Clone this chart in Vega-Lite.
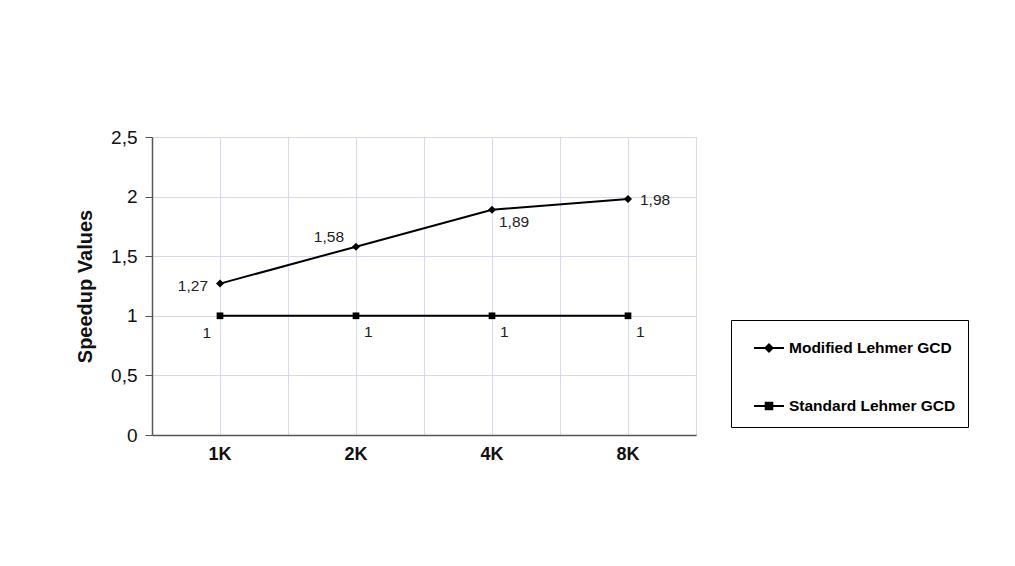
{
  "$schema": "https://vega.github.io/schema/vega-lite/v6.json",
  "autosize": {"type": "none"},
  "width": 544,
  "height": 298,
  "padding": {"left": 152, "top": 137, "right": 319, "bottom": 131},
  "background": "white",
  "config": {
    "font": "Liberation Sans",
    "locale": {"number": {"decimal": ",", "thousands": ".", "grouping": [3], "currency": ["", " €"]}},
    "view": {"stroke": "#d8d8f0", "strokeWidth": 1},
    "axis": {"gridColor": "#d8d8f0", "gridWidth": 1, "domainColor": "#555555", "domainWidth": 1.5, "tickColor": "#555555", "labelColor": "#111111", "titleColor": "#111111"}
  },
  "data": {
    "values": [
      {"size": "1K", "series": "Modified Lehmer GCD", "speedup": 1.27},
      {"size": "2K", "series": "Modified Lehmer GCD", "speedup": 1.58},
      {"size": "4K", "series": "Modified Lehmer GCD", "speedup": 1.89},
      {"size": "8K", "series": "Modified Lehmer GCD", "speedup": 1.98},
      {"size": "1K", "series": "Standard Lehmer GCD", "speedup": 1},
      {"size": "2K", "series": "Standard Lehmer GCD", "speedup": 1},
      {"size": "4K", "series": "Standard Lehmer GCD", "speedup": 1},
      {"size": "8K", "series": "Standard Lehmer GCD", "speedup": 1}
    ]
  },
  "encoding": {
    "x": {"field": "size", "type": "ordinal", "sort": ["1K", "2K", "4K", "8K"], "axis": null,
          "scale": {"type": "band", "paddingInner": 0, "paddingOuter": 0}},
    "y": {"field": "speedup", "type": "quantitative", "scale": {"domain": [0, 2.5], "nice": false, "zero": true}}
  },
  "layer": [
    {
      "mark": {"type": "point", "filled": false, "color": "black", "opacity": 0},
      "encoding": {
        "x": {"field": "size", "type": "ordinal", "sort": ["1K", "2K", "4K", "8K"],
              "axis": {"orient": "bottom", "title": null, "grid": true, "tickBand": "extent", "labels": false, "ticks": false, "domain": false}},
        "shape": {
          "field": "series", "type": "nominal",
          "scale": {"domain": ["Modified Lehmer GCD", "Standard Lehmer GCD"],
                    "range": [
                      "M-1,0L1,0M0,-0.24L0.24,0L0,0.24L-0.24,0ZM0,-0.2L0,0.2",
                      "M-1,0L1,0M-0.22,-0.22L0.22,-0.22L0.22,0.22L-0.22,0.22ZM0,-0.22L0,0.22M-0.22,-0.1L0.22,-0.1M-0.22,0.1L0.22,0.1"
                    ]},
          "legend": {
            "orient": "none", "legendX": 579, "legendY": 183, "title": null,
            "symbolSize": 900, "symbolStrokeWidth": 2, "symbolStrokeColor": "black", "symbolFillColor": "black", "symbolOpacity": 1,
            "labelFontSize": 15.5, "labelFontWeight": "bold", "labelColor": "black", "labelOffset": 4, "labelLimit": 300,
            "rowPadding": 33, "padding": 12, "symbolOffset": 10,
            "strokeColor": "black", "fillColor": "white"
          }
        }
      }
    },
    {
      "mark": {"type": "line", "color": "black", "strokeWidth": 2},
      "encoding": {
        "detail": {"field": "series"},
        "x": {"field": "size", "type": "ordinal", "sort": ["1K", "2K", "4K", "8K"],
              "axis": {"orient": "bottom", "title": null, "grid": true, "ticks": false, "labelFontSize": 18, "labelFontWeight": "bold", "labelPadding": 10, "labelAngle": 0}},
        "y": {"field": "speedup", "type": "quantitative",
              "axis": {"title": "Speedup Values", "titleFontSize": 20, "titleFontWeight": "bold", "titlePadding": 15,
                       "values": [0, 0.5, 1, 1.5, 2, 2.5], "grid": true, "tickSize": 7, "labelPadding": 8, "labelFontSize": 19,
                       "labelExpr": "replace(format(datum.value, '.1~f'), '.', ',')"}}
      }
    },
    {
      "transform": [{"filter": "datum.series === 'Modified Lehmer GCD'"}],
      "mark": {"type": "point", "shape": "diamond", "filled": true, "color": "black", "size": 64, "opacity": 1}
    },
    {
      "transform": [{"filter": "datum.series === 'Standard Lehmer GCD'"}],
      "mark": {"type": "point", "shape": "square", "filled": true, "color": "black", "size": 45, "opacity": 1}
    },
    {
      "transform": [{"filter": "datum.series === 'Modified Lehmer GCD' && datum.size === '1K'"}],
      "mark": {"type": "text", "align": "right", "baseline": "middle", "dx": -12, "dy": 2, "fontSize": 15.5, "color": "#222222"},
      "encoding": {"text": {"field": "speedup", "type": "quantitative", "format": ".3~g"}}
    },
    {
      "transform": [{"filter": "datum.series === 'Modified Lehmer GCD' && datum.size === '2K'"}],
      "mark": {"type": "text", "align": "right", "baseline": "middle", "dx": -12, "dy": -10, "fontSize": 15.5, "color": "#222222"},
      "encoding": {"text": {"field": "speedup", "type": "quantitative", "format": ".3~g"}}
    },
    {
      "transform": [{"filter": "datum.series === 'Modified Lehmer GCD' && datum.size === '4K'"}],
      "mark": {"type": "text", "align": "left", "baseline": "middle", "dx": 7, "dy": 12, "fontSize": 15.5, "color": "#222222"},
      "encoding": {"text": {"field": "speedup", "type": "quantitative", "format": ".3~g"}}
    },
    {
      "transform": [{"filter": "datum.series === 'Modified Lehmer GCD' && datum.size === '8K'"}],
      "mark": {"type": "text", "align": "left", "baseline": "middle", "dx": 12, "dy": 1, "fontSize": 15.5, "color": "#222222"},
      "encoding": {"text": {"field": "speedup", "type": "quantitative", "format": ".3~g"}}
    },
    {
      "transform": [{"filter": "datum.series === 'Standard Lehmer GCD' && datum.size === '1K'"}],
      "mark": {"type": "text", "align": "right", "baseline": "middle", "dx": -9, "dy": 17, "fontSize": 15.5, "color": "#222222"},
      "encoding": {"text": {"field": "speedup", "type": "quantitative", "format": ".3~g"}}
    },
    {
      "transform": [{"filter": "datum.series === 'Standard Lehmer GCD' && datum.size !== '1K'"}],
      "mark": {"type": "text", "align": "left", "baseline": "middle", "dx": 8, "dy": 16, "fontSize": 15.5, "color": "#222222"},
      "encoding": {"text": {"field": "speedup", "type": "quantitative", "format": ".3~g"}}
    }
  ],
  "resolve": {"axis": {"x": "independent"}}
}
